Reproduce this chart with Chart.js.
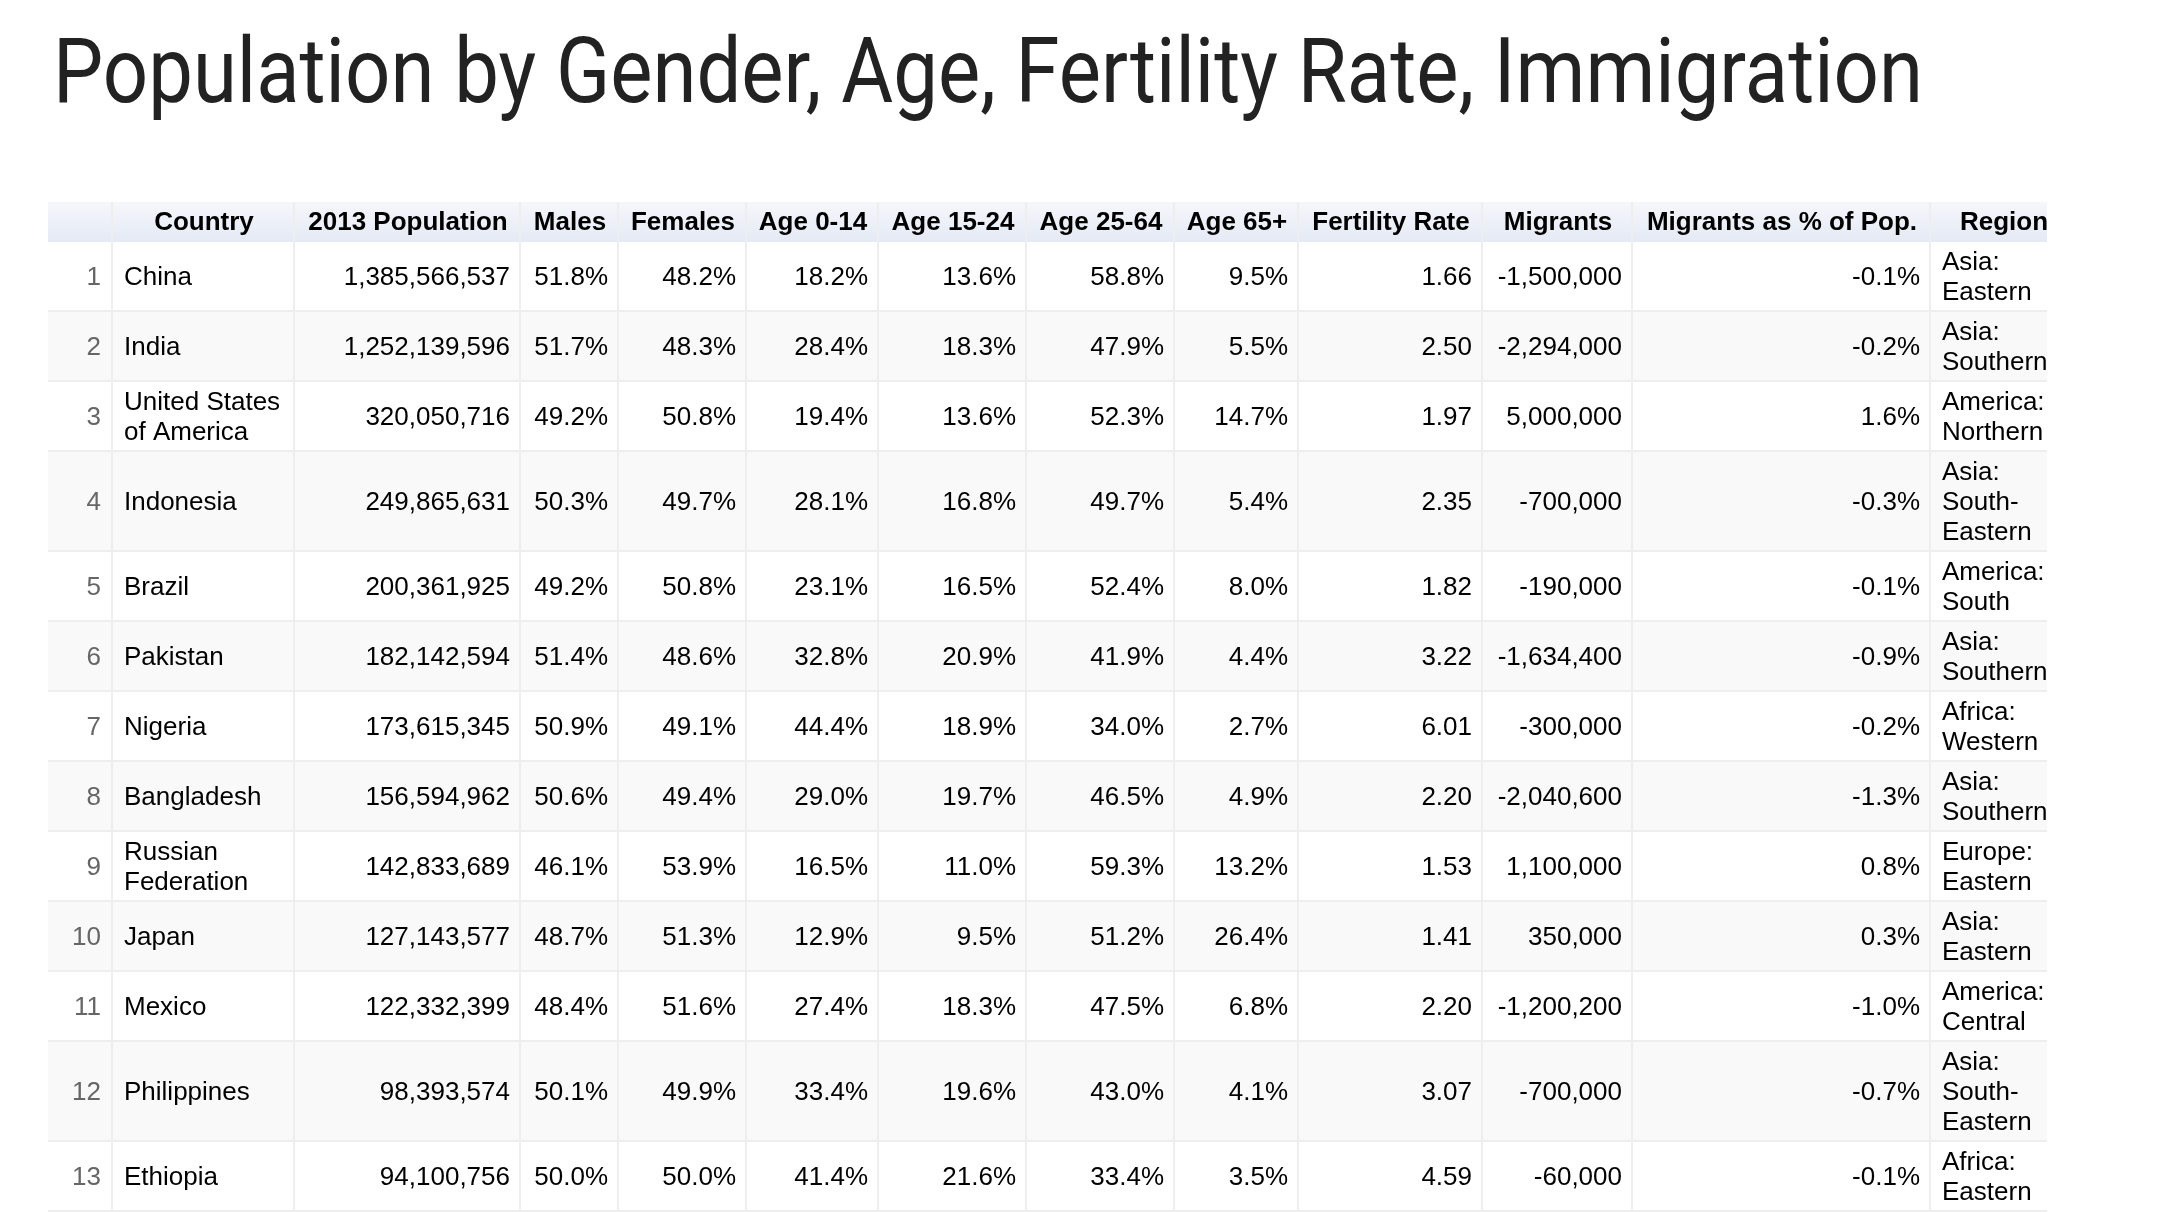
<!DOCTYPE html>
<html>
<head>
<meta charset="utf-8">
<title>Population by Gender, Age, Fertility Rate, Immigration</title>
<script src="https://cdn.jsdelivr.net/npm/chart.js@4.4.1/dist/chart.umd.min.js"></script>
<style>
  html, body { margin: 0; padding: 0; background: #fff; }
  #wrap { width: 2176px; height: 1212px; position: relative; }
</style>
</head>
<body>
<div id="wrap"><canvas id="populationTable"></canvas></div>
<script>
// Table data, one small array per column
const titleText = 'Population by Gender, Age, Fertility Rate, Immigration';
const headers = ['', 'Country', '2013 Population', 'Males', 'Females', 'Age 0-14', 'Age 15-24',
                 'Age 25-64', 'Age 65+', 'Fertility Rate', 'Migrants', 'Migrants as % of Pop.', 'Region'];
const countries = ['China', 'India', 'United States of America', 'Indonesia', 'Brazil', 'Pakistan',
                   'Nigeria', 'Bangladesh', 'Russian Federation', 'Japan', 'Mexico', 'Philippines', 'Ethiopia'];
const population = [1385566537, 1252139596, 320050716, 249865631, 200361925, 182142594,
                    173615345, 156594962, 142833689, 127143577, 122332399, 98393574, 94100756];
const males = [51.8, 51.7, 49.2, 50.3, 49.2, 51.4, 50.9, 50.6, 46.1, 48.7, 48.4, 50.1, 50.0];
const females = [48.2, 48.3, 50.8, 49.7, 50.8, 48.6, 49.1, 49.4, 53.9, 51.3, 51.6, 49.9, 50.0];
const age0to14 = [18.2, 28.4, 19.4, 28.1, 23.1, 32.8, 44.4, 29.0, 16.5, 12.9, 27.4, 33.4, 41.4];
const age15to24 = [13.6, 18.3, 13.6, 16.8, 16.5, 20.9, 18.9, 19.7, 11.0, 9.5, 18.3, 19.6, 21.6];
const age25to64 = [58.8, 47.9, 52.3, 49.7, 52.4, 41.9, 34.0, 46.5, 59.3, 51.2, 47.5, 43.0, 33.4];
const age65plus = [9.5, 5.5, 14.7, 5.4, 8.0, 4.4, 2.7, 4.9, 13.2, 26.4, 6.8, 4.1, 3.5];
const fertility = [1.66, 2.50, 1.97, 2.35, 1.82, 3.22, 6.01, 2.20, 1.53, 1.41, 2.20, 3.07, 4.59];
const migrants = [-1500000, -2294000, 5000000, -700000, -190000, -1634400, -300000,
                  -2040600, 1100000, 350000, -1200200, -700000, -60000];
const migrantsPct = [-0.1, -0.2, 1.6, -0.3, -0.1, -0.9, -0.2, -1.3, 0.8, 0.3, -1.0, -0.7, -0.1];
const regions = ['Asia: Eastern', 'Asia: Southern', 'America: Northern', 'Asia: South-Eastern',
                 'America: South', 'Asia: Southern', 'Africa: Western', 'Asia: Southern',
                 'Europe: Eastern', 'Asia: Eastern', 'America: Central', 'Asia: South-Eastern',
                 'Africa: Eastern'];

// Layout settings
const colWidths = [65, 182, 226, 98, 128, 132, 148, 148, 124, 184, 150, 298, 146];
const colAlign = ['right', 'left', 'right', 'right', 'right', 'right', 'right',
                  'right', 'right', 'right', 'right', 'right', 'left'];
const visibleWidth = 1999;     // table is cut off on the right
const headerHeight = 40;
const lineHeight = 30;
const cellPadY = 10;
const fontFamily = '"Liberation Sans", Arial, Helvetica, sans-serif';
const fontSize = 26;

const pct = v => v.toFixed(1) + '%';
const num = v => v.toLocaleString('en-US');

const rows = countries.map((c, i) => [
    String(i + 1), c, num(population[i]), pct(males[i]), pct(females[i]),
    pct(age0to14[i]), pct(age15to24[i]), pct(age25to64[i]), pct(age65plus[i]),
    fertility[i].toFixed(2), num(migrants[i]), pct(migrantsPct[i]), regions[i]
]);

// word wrap, breaking on spaces and after hyphens
const measureCtx = document.createElement('canvas').getContext('2d');
measureCtx.font = fontSize + 'px ' + fontFamily;
function wrapText(text, maxWidth) {
    const marked = text.replace(/-/g, '-\u0000');
    const tokens = marked.split(/ |\u0000/).filter(t => t.length);
    const joiners = [];
    marked.split('').forEach(ch => {
        if (ch === ' ' || ch === '\u0000') joiners.push(ch === ' ' ? ' ' : '');
    });
    const lines = [];
    let line = tokens[0];
    for (let k = 1; k < tokens.length; k++) {
        const candidate = line + joiners[k - 1] + tokens[k];
        if (measureCtx.measureText(candidate).width > maxWidth) {
            lines.push(line);
            line = tokens[k];
        } else {
            line = candidate;
        }
    }
    lines.push(line);
    return lines;
}

const cellLines = rows.map(r => r.map((txt, c) => wrapText(txt, colWidths[c] - 20)));
const rowHeights = cellLines.map(r => Math.max(...r.map(l => l.length)) * lineHeight + cellPadY);

// cumulative edges in scale units
const colEdges = [0];
colWidths.forEach(w => colEdges.push(colEdges[colEdges.length - 1] + w));
const rowEdges = [0, headerHeight];
rowHeights.forEach(h => rowEdges.push(rowEdges[rowEdges.length - 1] + h));
const tableHeight = rowEdges[rowEdges.length - 1];

const tablePlugin = {
    id: 'tableCells',
    beforeDraw(chart) {
        const ctx = chart.ctx;
        // title, condensed to the width of the original
        ctx.save();
        ctx.font = '400 91px Roboto, "Noto Sans", sans-serif';
        ctx.fillStyle = '#222222';
        ctx.textBaseline = 'alphabetic';
        const w = ctx.measureText(titleText).width;
        ctx.translate(53, 102);
        ctx.scale(1870 / w, 1);
        ctx.fillText(titleText, 0, 0);
        ctx.restore();
    },
    afterDraw(chart) {
        const { ctx, chartArea, scales: { x, y } } = chart;
        ctx.save();
        ctx.beginPath();
        ctx.rect(chartArea.left, chartArea.top, chartArea.right - chartArea.left, chartArea.bottom - chartArea.top + 2);
        ctx.clip();

        const left = x.getPixelForValue(0);
        const right = x.getPixelForValue(colEdges[colEdges.length - 1]);

        // header background
        const hTop = y.getPixelForValue(rowEdges[0]);
        const hBot = y.getPixelForValue(rowEdges[1]);
        const grad = ctx.createLinearGradient(0, hTop, 0, hBot);
        grad.addColorStop(0, '#f5f7fb');
        grad.addColorStop(1, '#e4e9f4');
        ctx.fillStyle = grad;
        ctx.fillRect(left, hTop, right - left, hBot - hTop);

        // striped rows
        rows.forEach((r, i) => {
            if (i % 2 === 1) {
                const top = y.getPixelForValue(rowEdges[i + 1]);
                const bot = y.getPixelForValue(rowEdges[i + 2]);
                ctx.fillStyle = '#f9f9f9';
                ctx.fillRect(left, top, right - left, bot - top);
            }
        });

        // grid lines
        ctx.strokeStyle = '#eeeeee';
        ctx.lineWidth = 2;
        ctx.beginPath();
        for (let k = 2; k < rowEdges.length; k++) {
            const py = Math.round(y.getPixelForValue(rowEdges[k])) - 1;
            ctx.moveTo(left, py);
            ctx.lineTo(right, py);
        }
        for (let c = 1; c < colEdges.length - 1; c++) {
            const px = Math.round(x.getPixelForValue(colEdges[c])) - 1;
            ctx.moveTo(px, hTop);
            ctx.lineTo(px, y.getPixelForValue(tableHeight));
        }
        ctx.stroke();

        ctx.textBaseline = 'alphabetic';
        const capShift = fontSize * 0.716 / 2;

        // header labels
        ctx.font = 'bold ' + fontSize + 'px ' + fontFamily;
        ctx.fillStyle = '#000000';
        ctx.textAlign = 'center';
        headers.forEach((h, c) => {
            const cx = (x.getPixelForValue(colEdges[c]) + x.getPixelForValue(colEdges[c + 1])) / 2;
            ctx.fillText(h, cx, (hTop + hBot) / 2 + capShift - 1);
        });

        // body cells
        ctx.font = fontSize + 'px ' + fontFamily;
        cellLines.forEach((r, i) => {
            const top = y.getPixelForValue(rowEdges[i + 1]);
            const bot = y.getPixelForValue(rowEdges[i + 2]);
            const mid = (top + bot) / 2 - 1;
            r.forEach((lines, c) => {
                const x0 = x.getPixelForValue(colEdges[c]);
                const x1 = x.getPixelForValue(colEdges[c + 1]);
                ctx.textAlign = colAlign[c];
                ctx.fillStyle = c === 0 ? '#666666' : '#000000';
                const tx = colAlign[c] === 'right' ? x1 - (c === 0 ? 12 : 11) : x0 + 11;
                lines.forEach((line, k) => {
                    const ty = mid + (k - (lines.length - 1) / 2) * lineHeight + capShift;
                    ctx.fillText(line, tx, ty);
                });
            });
        });
        ctx.restore();
    }
};

new Chart(document.getElementById('populationTable').getContext('2d'), {
    type: 'scatter',
    data: { datasets: [{ data: [], pointRadius: 0 }] },
    options: {
        responsive: true,
        maintainAspectRatio: false,
        animation: false,
        events: [],
        layout: { padding: { left: 48, right: 2176 - 48 - visibleWidth, top: 202, bottom: 1212 - 202 - tableHeight } },
        plugins: { legend: { display: false }, tooltip: { enabled: false }, title: { display: false } },
        scales: {
            x: { type: 'linear', min: 0, max: visibleWidth, display: false },
            y: { type: 'linear', min: 0, max: tableHeight, reverse: true, display: false }
        }
    },
    plugins: [tablePlugin]
});
</script>
</body>
</html>
